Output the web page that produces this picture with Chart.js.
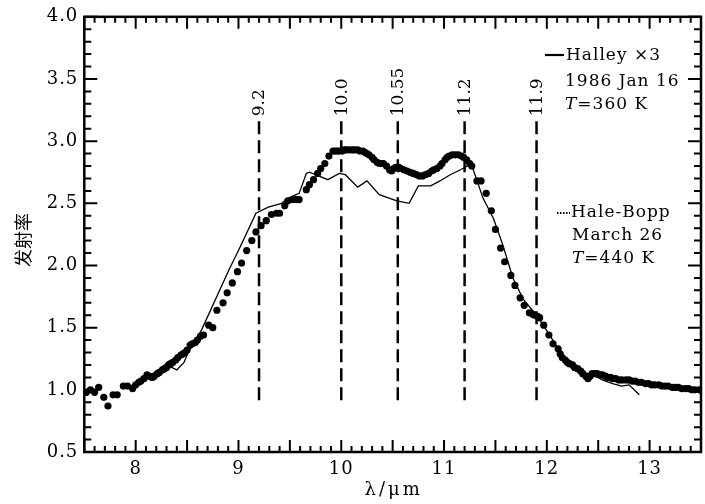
<!DOCTYPE html>
<html>
<head>
<meta charset="utf-8">
<script src="https://cdn.jsdelivr.net/npm/chart.js@4.4.1/dist/chart.umd.min.js"></script>
<style>
  html, body { margin: 0; padding: 0; background: #fff; }
  #wrap { width: 705px; height: 504px; }
</style>
</head>
<body>
<div id="wrap"><canvas id="chart" width="705" height="504"></canvas></div>
<script>
// Hale-Bopp (dots)
const haleBoppX = [
  7.52, 7.56, 7.60, 7.64, 7.69, 7.73, 7.78, 7.82, 7.88, 7.92, 7.97, 8.00, 8.03, 8.05,
  8.08, 8.11, 8.13, 8.16, 8.18, 8.21, 8.23, 8.26, 8.28, 8.30, 8.32, 8.34, 8.36, 8.39,
  8.41, 8.44, 8.46, 8.48, 8.50, 8.53, 8.55, 8.58, 8.60, 8.63, 8.66, 8.71, 8.75, 8.79,
  8.85, 8.89, 8.94, 8.99, 9.03, 9.08, 9.13, 9.17, 9.22, 9.27, 9.32, 9.37, 9.40, 9.45,
  9.48, 9.53, 9.56, 9.59, 9.66, 9.69, 9.73, 9.77, 9.80, 9.84, 9.88, 9.92, 9.94, 9.96,
  9.98, 10.01, 10.03, 10.05, 10.08, 10.11, 10.13, 10.16, 10.18, 10.21, 10.23, 10.25,
  10.27, 10.30, 10.32, 10.35, 10.37, 10.39, 10.41, 10.44, 10.47, 10.49, 10.51, 10.53,
  10.56, 10.58, 10.61, 10.64, 10.67, 10.70, 10.73, 10.76, 10.79, 10.82, 10.85, 10.88,
  10.90, 10.93, 10.96, 10.98, 11.01, 11.03, 11.05, 11.08, 11.11, 11.14, 11.17, 11.19,
  11.22, 11.25, 11.27, 11.32, 11.36, 11.41, 11.46, 11.50, 11.55, 11.59, 11.65, 11.69,
  11.74, 11.78, 11.83, 11.86, 11.88, 11.91, 11.93, 11.97, 12.02, 12.06, 12.11, 12.13,
  12.15, 12.18, 12.20, 12.22, 12.25, 12.27, 12.30, 12.33, 12.35, 12.38, 12.40, 12.42,
  12.44, 12.47, 12.49, 12.52, 12.54, 12.57, 12.59, 12.62, 12.64, 12.67, 12.70, 12.73,
  12.77, 12.80, 12.83, 12.86, 12.89, 12.92, 12.96, 12.99, 13.02, 13.05, 13.09, 13.12,
  13.15, 13.18, 13.22, 13.25, 13.28, 13.31, 13.35, 13.38, 13.41, 13.44, 13.48
];
const haleBoppY = [
  0.98, 1.00, 0.98, 1.02, 0.94, 0.87, 0.96, 0.96, 1.03, 1.03, 1.01, 1.04, 1.06, 1.07,
  1.09, 1.12, 1.11, 1.10, 1.11, 1.13, 1.14, 1.16, 1.17, 1.18, 1.20, 1.21, 1.22, 1.24,
  1.26, 1.28, 1.29, 1.30, 1.32, 1.36, 1.37, 1.38, 1.40, 1.43, 1.44, 1.52, 1.50, 1.64,
  1.70, 1.78, 1.86, 1.95, 2.02, 2.12, 2.20, 2.27, 2.32, 2.36, 2.41, 2.42, 2.42, 2.48,
  2.52, 2.53, 2.53, 2.53, 2.61, 2.65, 2.69, 2.74, 2.78, 2.82, 2.88, 2.92, 2.92, 2.92,
  2.92, 2.92, 2.93, 2.93, 2.93, 2.93, 2.93, 2.93, 2.92, 2.92, 2.91, 2.90,
  2.89, 2.87, 2.85, 2.83, 2.82, 2.82, 2.82, 2.80, 2.77, 2.76, 2.78, 2.79,
  2.79, 2.78, 2.77, 2.76, 2.75, 2.74, 2.73, 2.72, 2.72, 2.73, 2.74, 2.76,
  2.77, 2.78, 2.80, 2.82, 2.85, 2.87, 2.88, 2.89, 2.89, 2.89, 2.88, 2.87,
  2.85, 2.82, 2.80, 2.68, 2.68, 2.58, 2.44, 2.29, 2.14, 2.03, 1.92, 1.84,
  1.74, 1.68, 1.62, 1.61, 1.60, 1.59, 1.58, 1.52, 1.44, 1.37, 1.33, 1.29,
  1.26, 1.24, 1.22, 1.21, 1.20, 1.18, 1.17, 1.15, 1.13, 1.11, 1.09, 1.11,
  1.13, 1.13, 1.13, 1.12, 1.12, 1.11, 1.10, 1.10, 1.09, 1.09, 1.08, 1.08,
  1.08, 1.08, 1.07, 1.07, 1.06, 1.06, 1.05, 1.05, 1.04, 1.04, 1.04, 1.03,
  1.03, 1.03, 1.02, 1.02, 1.02, 1.01, 1.01, 1.01, 1.00, 1.00, 1.00
];

// Halley x3 (solid line)
const halleyX = [
  7.92, 8.00, 8.10, 8.20, 8.30, 8.35, 8.40, 8.47, 8.51, 8.64, 8.91, 9.00, 9.17, 9.29,
  9.42, 9.48, 9.59, 9.66, 9.69, 9.87, 9.98, 10.04, 10.16, 10.25, 10.37, 10.54, 10.66,
  10.75, 10.87, 10.96, 11.06, 11.16, 11.25, 11.28, 11.38, 11.48, 11.57, 11.67, 11.77,
  11.90, 12.02, 12.15, 12.25, 12.38, 12.45, 12.54, 12.64, 12.73, 12.80, 12.90
];
const halleyY = [
  1.02, 1.05, 1.11, 1.14, 1.18, 1.18, 1.16, 1.22, 1.30, 1.48, 1.97, 2.12, 2.42, 2.47,
  2.50, 2.54, 2.58, 2.74, 2.75, 2.69, 2.74, 2.73, 2.63, 2.68, 2.57, 2.52, 2.50,
  2.64, 2.64, 2.68, 2.73, 2.77, 2.81, 2.78, 2.54, 2.38, 2.17, 1.90, 1.73,
  1.60, 1.45, 1.28, 1.20, 1.13, 1.12, 1.08, 1.05, 1.03, 1.04, 0.96
];

// dashed feature lines
const featureX = [9.2, 10.0, 10.55, 11.2, 11.9];
const featureLabels = ["9.2", "10.0", "10.55", "11.2", "11.9"];
const featureTop = 3.16;
const featureBottom = 0.9;

const xTicks = [8, 9, 10, 11, 12, 13];
const yTicks = [0.5, 1.0, 1.5, 2.0, 2.5, 3.0, 3.5, 4.0];

const legendHalley = ["Halley ×3", "1986 Jan 16", "T=360 K"];
const legendHaleBopp = ["Hale-Bopp", "March 26", "T=440 K"];

const serif = "'DejaVu Serif', serif";
const tickFont = { family: serif, size: 18 };

function toPoints(xs, ys) {
  return xs.map((x, i) => ({ x, y: ys[i] }));
}

function drawLegendLine(ctx, text, x, y) {
  ctx.textAlign = "left";
  ctx.textBaseline = "middle";
  if (text.startsWith("T=")) {
    ctx.font = "italic 17px " + serif;
    ctx.fillText("T", x, y);
    const w = ctx.measureText("T").width;
    ctx.font = "17px " + serif;
    ctx.fillText(text.slice(1), x + w, y);
  } else {
    ctx.font = "17px " + serif;
    ctx.fillText(text, x, y);
  }
}

const framePlugin = {
  id: "frame",
  beforeDraw(chart) {
    chart.ctx.letterSpacing = "1px";
  },
  afterDraw(chart) {
    const { ctx, chartArea: a, scales } = chart;
    const xs = scales.x;
    const ys = scales.y;
    ctx.save();
    ctx.letterSpacing = "0px";
    ctx.strokeStyle = "#000";
    ctx.fillStyle = "#000";

    // inward ticks on all four sides
    ctx.lineWidth = 2;
    ctx.beginPath();
    for (let i = 75; i <= 135; i += 1) {
      const px = xs.getPixelForValue(i / 10);
      const len = i % 5 === 0 ? 12 : 6;
      ctx.moveTo(px, a.bottom);
      ctx.lineTo(px, a.bottom - len);
      ctx.moveTo(px, a.top);
      ctx.lineTo(px, a.top + len);
    }
    for (let i = 5; i <= 40; i += 1) {
      const py = ys.getPixelForValue(i / 10);
      const len = i % 5 === 0 ? 13 : 7;
      ctx.moveTo(a.left, py);
      ctx.lineTo(a.left + len, py);
      ctx.moveTo(a.right, py);
      ctx.lineTo(a.right - len, py);
    }
    ctx.stroke();

    ctx.lineWidth = 2.5;
    ctx.strokeRect(a.left, a.top, a.right - a.left, a.bottom - a.top);

    // feature labels, rotated
    ctx.font = "17px " + serif;
    ctx.textAlign = "left";
    ctx.textBaseline = "middle";
    featureX.forEach((x, i) => {
      const px = xs.getPixelForValue(x) + 1;
      const py = ys.getPixelForValue(featureTop) - 5;
      ctx.save();
      ctx.translate(px, py);
      ctx.rotate(-Math.PI / 2);
      ctx.fillText(featureLabels[i], 0, 0);
      ctx.restore();
    });

    // legend blocks
    ctx.letterSpacing = "1px";
    ctx.lineWidth = 2.2;
    ctx.beginPath();
    ctx.moveTo(545, 55);
    ctx.lineTo(564, 55);
    ctx.stroke();
    drawLegendLine(ctx, legendHalley[0], 566, 56);
    drawLegendLine(ctx, legendHalley[1], 565, 82);
    drawLegendLine(ctx, legendHalley[2], 565, 105);

    ctx.lineWidth = 2;
    ctx.setLineDash([1.5, 1.5]);
    ctx.beginPath();
    ctx.moveTo(557, 213);
    ctx.lineTo(570, 213);
    ctx.stroke();
    ctx.setLineDash([]);
    drawLegendLine(ctx, legendHaleBopp[0], 571, 213);
    drawLegendLine(ctx, legendHaleBopp[1], 572, 236);
    drawLegendLine(ctx, legendHaleBopp[2], 572, 259);

    // axis titles
    ctx.textAlign = "center";
    ctx.textBaseline = "middle";
    ctx.letterSpacing = "3px";
    ctx.font = "18px " + serif;
    ctx.fillText("λ/μm", (a.left + a.right) / 2 + 1, 490);
    ctx.letterSpacing = "0px";
    ctx.save();
    ctx.translate(23, 240);
    ctx.rotate(-Math.PI / 2);
    ctx.font = "18px 'Noto Sans CJK SC'";
    ctx.fillText("发射率", 0, 0);
    ctx.restore();

    ctx.restore();
  },
};

const featureDatasets = featureX.map((x, i) => ({
  type: "line",
  label: "line " + featureLabels[i],
  data: [{ x, y: featureTop }, { x, y: featureBottom }],
  borderColor: "#000",
  borderWidth: 2.5,
  borderDash: [13, 6],
  pointRadius: 0,
  order: 3,
}));

new Chart(document.getElementById("chart"), {
  data: {
    datasets: [
      ...featureDatasets,
      {
        type: "line",
        label: "Halley ×3",
        data: toPoints(halleyX, halleyY),
        borderColor: "#000",
        borderWidth: 1.3,
        pointRadius: 0,
        tension: 0,
        order: 2,
      },
      {
        type: "scatter",
        label: "Hale-Bopp",
        data: toPoints(haleBoppX, haleBoppY),
        backgroundColor: "#000",
        borderWidth: 0,
        pointRadius: 3.6,
        order: 1,
      },
    ],
  },
  options: {
    responsive: false,
    animation: false,
    devicePixelRatio: 1,
    layout: { padding: { left: 0, right: 0.8, top: 15, bottom: 0 } },
    plugins: {
      legend: { display: false },
      tooltip: { enabled: false },
    },
    scales: {
      x: {
        type: "linear",
        min: 7.5,
        max: 13.5,
        afterBuildTicks: (s) => { s.ticks = xTicks.map((v) => ({ value: v })); },
        afterFit: (s) => { s.height = 52; },
        grid: { display: false, drawTicks: false },
        border: { display: false },
        ticks: { color: "#000", font: tickFont, padding: 7, maxRotation: 0, callback: (v) => String(v) },
      },
      y: {
        type: "linear",
        min: 0.5,
        max: 4.0,
        afterBuildTicks: (s) => { s.ticks = yTicks.map((v) => ({ value: v })); },
        afterFit: (s) => { s.width = 84.3; },
        grid: { display: false, drawTicks: false },
        border: { display: false },
        ticks: { color: "#000", font: tickFont, padding: 6, callback: (v) => v.toFixed(1) },
      },
    },
  },
  plugins: [framePlugin],
});
</script>
</body>
</html>
